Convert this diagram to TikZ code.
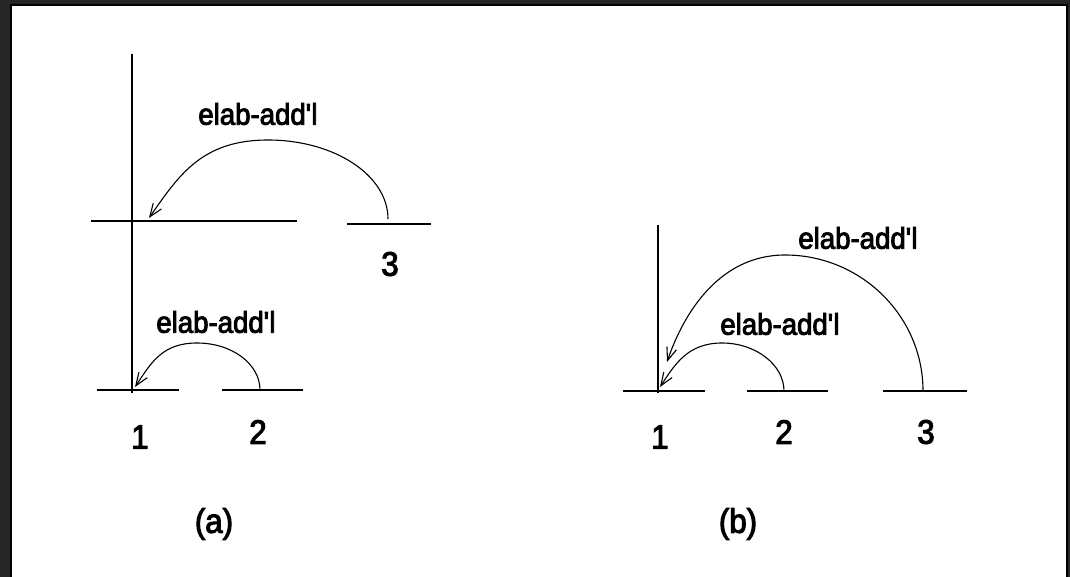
\documentclass[tikz,border=0pt]{standalone}
\usepackage{fontspec}
\setmainfont{Liberation Sans}
\newfontfamily\lblfont[FakeBold=3,FakeStretch=0.92]{Liberation Sans}
\usetikzlibrary{arrows.meta}
\definecolor{framegray}{HTML}{262626}
\newcommand{\rellabel}{elab-add\textquotesingle l}
\tikzset{
  seg/.style={line width=1.2pt, black},
  rel/.style={line width=1.1pt, -{Straight Barb[length=13pt,width=10pt,line width=1.1pt]}},
  lbl/.style={font=\lblfont\fontsize{30}{32}\selectfont, inner sep=0pt},
  num/.style={font=\lblfont\fontsize{34}{36}\selectfont, inner sep=0pt},
}
\begin{document}
\begin{tikzpicture}[x=1pt,y=-1pt]
\useasboundingbox (0,0) rectangle (1070,577);
\fill[framegray] (0,0) rectangle (1070,577);
\fill[black] (10,4) rectangle (1068,577);
\fill[white] (12,6) rectangle (1066,577);

% ---------- panel (a) ----------
\coordinate (aVtop) at (132,54);
\coordinate (aVbot) at (132,393);
\draw[seg] (aVtop) -- (aVbot);
\coordinate (aU1l) at (91,221);
\coordinate (aU1r) at (297,221);
\draw[seg] (aU1l) -- (aU1r);
\coordinate (aU3l) at (347,224);
\coordinate (aU3r) at (431,224);
\draw[seg] (aU3l) -- (aU3r);
\coordinate (aL1l) at (97,390);
\coordinate (aL1r) at (179,390);
\draw[seg] (aL1l) -- (aL1r);
\coordinate (aL2l) at (222,390);
\coordinate (aL2r) at (303,390);
\draw[seg] (aL2l) -- (aL2r);

\coordinate (aUs) at (388,219);
\coordinate (aUtop) at (268,140);
\coordinate (aUt) at (149,218);
\draw[rel] (aUs) .. controls (388,175) and (334,140) .. (aUtop)
  .. controls (202,140) and (179,175) .. (aUt);

\coordinate (aLs) at (260,390);
\coordinate (aLtop) at (197,343);
\coordinate (aLt) at (135,387);
\draw[rel] (aLs) .. controls (260,364) and (232,343) .. (aLtop)
  .. controls (162,343) and (151,363) .. (aLt);

\node[lbl] (aUlab) at (258,114) {\rellabel};
\node[lbl] (aLlab) at (216,322) {\rellabel};
\node[num] (a3) at (390,264) {3};
\node[num] (a1) at (140,437) {1};
\node[num] (a2) at (258,432) {2};
\node[num] (acap) at (214,524) {(a)};

% ---------- panel (b) ----------
\coordinate (bVtop) at (658,225);
\coordinate (bVbot) at (658,393);
\draw[seg] (bVtop) -- (bVbot);
\coordinate (b1l) at (623,391);
\coordinate (b1r) at (705,391);
\draw[seg] (b1l) -- (b1r);
\coordinate (b2l) at (747,391);
\coordinate (b2r) at (828,391);
\draw[seg] (b2l) -- (b2r);
\coordinate (b3l) at (883,391);
\coordinate (b3r) at (967,391);
\draw[seg] (b3l) -- (b3r);

\coordinate (bBs) at (923,391);
\coordinate (bBtop) at (785,255);
\coordinate (bBt) at (667,362);
\draw[rel] (bBs) .. controls (923,316) and (861,255) .. (bBtop)
  .. controls (720,255) and (684,312) .. (bBt);

\coordinate (bSs) at (784,391);
\coordinate (bStop) at (722,343);
\coordinate (bSt) at (660,387);
\draw[rel] (bSs) .. controls (784,365) and (756,343) .. (bStop)
  .. controls (688,343) and (675,364) .. (bSt);

\node[lbl] (bBlab) at (858,238) {\rellabel};
\node[lbl] (bSlab) at (780,324) {\rellabel};
\node[num] (b1) at (660,437) {1};
\node[num] (b2) at (784,432) {2};
\node[num] (b3) at (926,432) {3};
\node[num] (bcap) at (738,524) {(b)};
\end{tikzpicture}
\end{document}
